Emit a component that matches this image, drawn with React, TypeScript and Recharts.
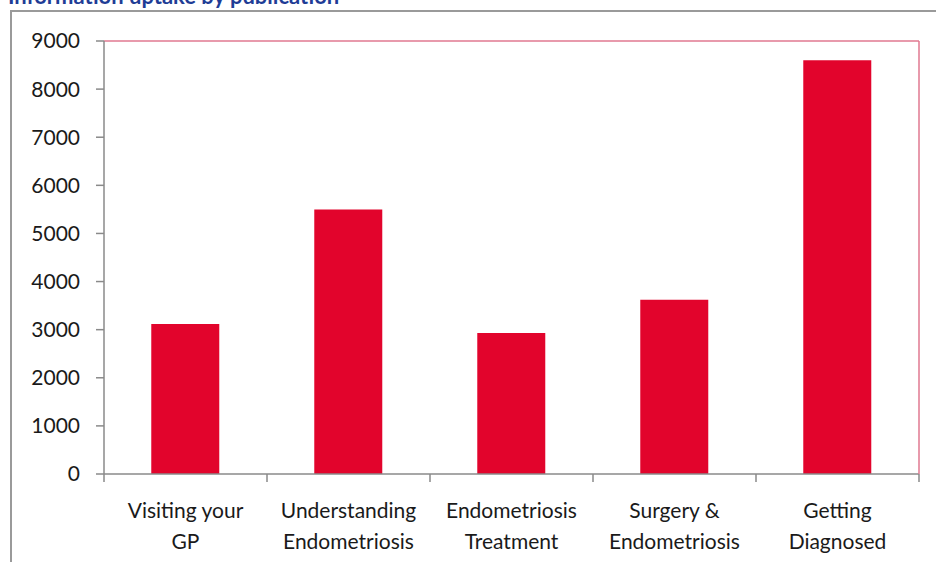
import React from "react";
import { BarChart, Bar, XAxis, YAxis, ReferenceLine } from "recharts";

const categories = [
  ["Visiting your", "GP"],
  ["Understanding", "Endometriosis"],
  ["Endometriosis", "Treatment"],
  ["Surgery &", "Endometriosis"],
  ["Getting", "Diagnosed"],
];
const uptake = [3120, 5500, 2930, 3620, 8600];
const yTicks = [0, 1000, 2000, 3000, 4000, 5000, 6000, 7000, 8000, 9000];

const data = categories.map((c, i) => ({ name: c.join(" "), lines: c, value: uptake[i] }));

const W = 936;
const H = 562;
const M = { top: 41, right: 16, bottom: 0, left: 0 };
const X_H = 88;
const Y_W = 104;
const band = (W - M.right - 1 - Y_W) / categories.length;
const FONT = "Lato, 'Open Sans', sans-serif";

const CatTick = (props: any) => {
  const { x, y, index } = props;
  const lines: string[] = categories[index] || [];
  return (
    <g>
      <line x1={x - band / 2} x2={x - band / 2} y1={y - 8} y2={y} stroke="#8a8a8a" strokeWidth={1.5} />
      {index === categories.length - 1 && (
        <line x1={x + band / 2} x2={x + band / 2} y1={y - 8} y2={y} stroke="#8a8a8a" strokeWidth={1.5} />
      )}
      {lines.map((l, i) => (
        <text key={i} x={x} y={y + 36 + i * 31} textAnchor="middle" fontSize={21} fill="#1a1a1a" fontFamily={FONT}>
          {l}
        </text>
      ))}
    </g>
  );
};

const App = () => {
  return (
    <div style={{ position: "absolute", left: 0, top: 0, width: W, height: H, background: "#fff", overflow: "hidden" }}>
      <div
        style={{
          position: "absolute",
          left: 8,
          top: -18,
          fontFamily: FONT,
          fontWeight: 700,
          fontSize: 22,
          color: "#1f3d96",
          whiteSpace: "nowrap",
        }}
      >
        Information uptake by publication
      </div>
      <div
        style={{
          position: "absolute",
          left: 10,
          top: 10,
          width: W,
          height: H,
          borderTop: "2px solid #9a9a9a",
          borderLeft: "2px solid #9a9a9a",
        }}
      />
      <div style={{ position: "absolute", left: 0, top: 0 }}>
        <BarChart width={W} height={H} data={data} margin={M} barCategoryGap="29%">
          <XAxis
            dataKey="name"
            axisLine={{ stroke: "#8a8a8a", strokeWidth: 1.5 }}
            tickLine={false}
            tick={<CatTick />}
            interval={0}
            height={X_H}
          />
          <YAxis
            width={Y_W}
            domain={[0, 9000]}
            ticks={yTicks}
            axisLine={{ stroke: "#8a8a8a", strokeWidth: 1.5 }}
            tickLine={{ stroke: "#8a8a8a", strokeWidth: 1.5 }}
            tickSize={8}
            tickMargin={16}
            tick={{ fontSize: 21, fill: "#1a1a1a", fontFamily: FONT }}
          />
          <YAxis
            yAxisId="frame"
            orientation="right"
            width={1}
            domain={[0, 9000]}
            tick={false}
            tickLine={false}
            axisLine={{ stroke: "#e07890", strokeWidth: 1.5 }}
          />
          <ReferenceLine y={9000} stroke="#e07890" strokeWidth={1.5} />
          <Bar dataKey="value" fill="#e2042c" isAnimationActive={false} />
        </BarChart>
      </div>
    </div>
  );
};

export default App;
